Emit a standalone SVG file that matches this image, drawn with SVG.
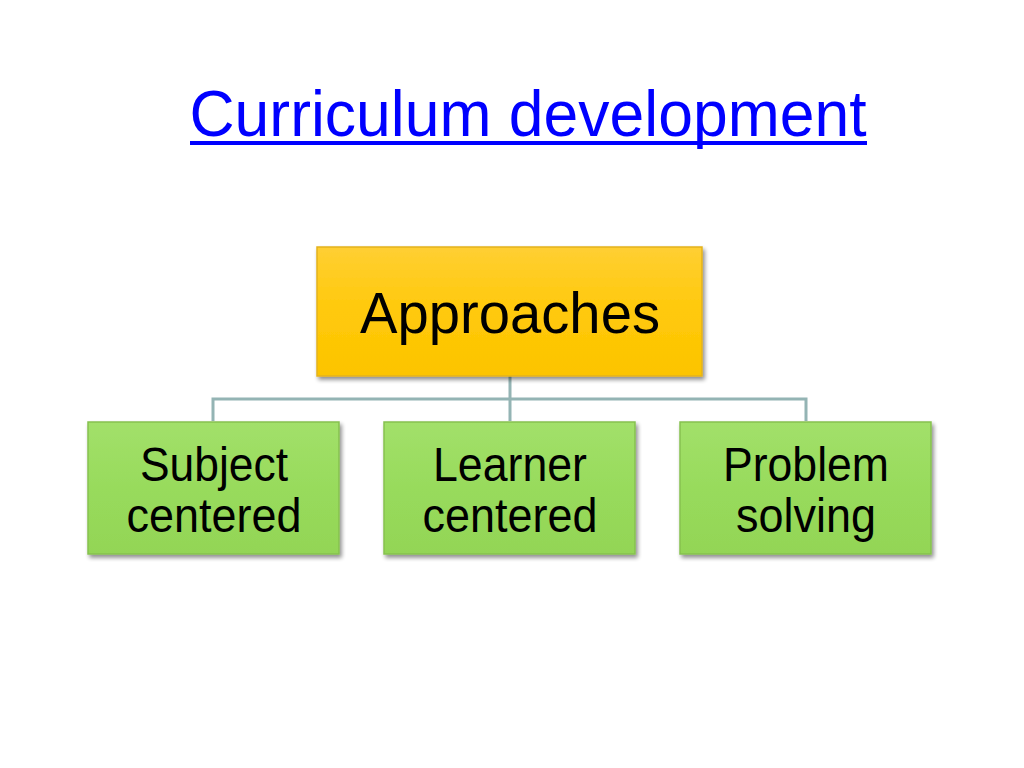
<svg xmlns="http://www.w3.org/2000/svg" width="1024" height="768" viewBox="0 0 1024 768">
<defs>
<linearGradient id="gy" x1="0" y1="0" x2="0" y2="1">
<stop offset="0" stop-color="#ffcf33"/>
<stop offset="0.5" stop-color="#ffc90a"/>
<stop offset="1" stop-color="#fcc400"/>
</linearGradient>
<linearGradient id="gg" x1="0" y1="0" x2="0" y2="1">
<stop offset="0" stop-color="#a2e06a"/>
<stop offset="0.5" stop-color="#98db5c"/>
<stop offset="1" stop-color="#93d556"/>
</linearGradient>
<filter id="sh" x="-10%" y="-10%" width="125%" height="130%">
<feGaussianBlur in="SourceAlpha" stdDeviation="2"/>
<feOffset dx="2" dy="3" result="b"/>
<feComponentTransfer><feFuncA type="linear" slope="0.45"/></feComponentTransfer>
<feMerge><feMergeNode/><feMergeNode in="SourceGraphic"/></feMerge>
</filter>
</defs>
<style>
.t{font-family:"Liberation Sans",Arial,sans-serif;fill:#000;text-anchor:middle}
.g{fill:url(#gg);stroke:#86c14f;stroke-width:1.5}
.y{fill:url(#gy);stroke:#e3b21c;stroke-width:1.5}
.c{stroke:#94b4b4;stroke-width:3;fill:none}
</style>
<rect width="1024" height="768" fill="#fff"/>
<g id="title">
<text x="528" y="136" font-family="Liberation Sans,Arial,sans-serif" font-size="64" fill="#0000ff" text-anchor="middle" textLength="677" lengthAdjust="spacingAndGlyphs">Curriculum development</text>
<rect x="190" y="141" width="677" height="4" fill="#0000ff"/>
</g>
<g id="connectors">
<path class="c" d="M510 376 V421 M213 421 V399 H806 V421"/>
</g>
<g id="approaches">
<rect class="y" x="317" y="247" width="385" height="129" filter="url(#sh)"/>
<text class="t" x="510" y="333" font-size="58" textLength="300" lengthAdjust="spacingAndGlyphs">Approaches</text>
</g>
<g id="subject">
<rect class="g" x="88" y="422" width="251" height="132" filter="url(#sh)"/>
<text class="t" x="214" y="481" font-size="48" textLength="148" lengthAdjust="spacingAndGlyphs">Subject</text>
<text class="t" x="214" y="532" font-size="48" textLength="175" lengthAdjust="spacingAndGlyphs">centered</text>
</g>
<g id="learner">
<rect class="g" x="384" y="422" width="251" height="132" filter="url(#sh)"/>
<text class="t" x="510" y="481" font-size="48" textLength="154" lengthAdjust="spacingAndGlyphs">Learner</text>
<text class="t" x="510" y="532" font-size="48" textLength="175" lengthAdjust="spacingAndGlyphs">centered</text>
</g>
<g id="problem">
<rect class="g" x="680" y="422" width="251" height="132" filter="url(#sh)"/>
<text class="t" x="806" y="481" font-size="48" textLength="166" lengthAdjust="spacingAndGlyphs">Problem</text>
<text class="t" x="806" y="532" font-size="48" textLength="140" lengthAdjust="spacingAndGlyphs">solving</text>
</g>
</svg>
